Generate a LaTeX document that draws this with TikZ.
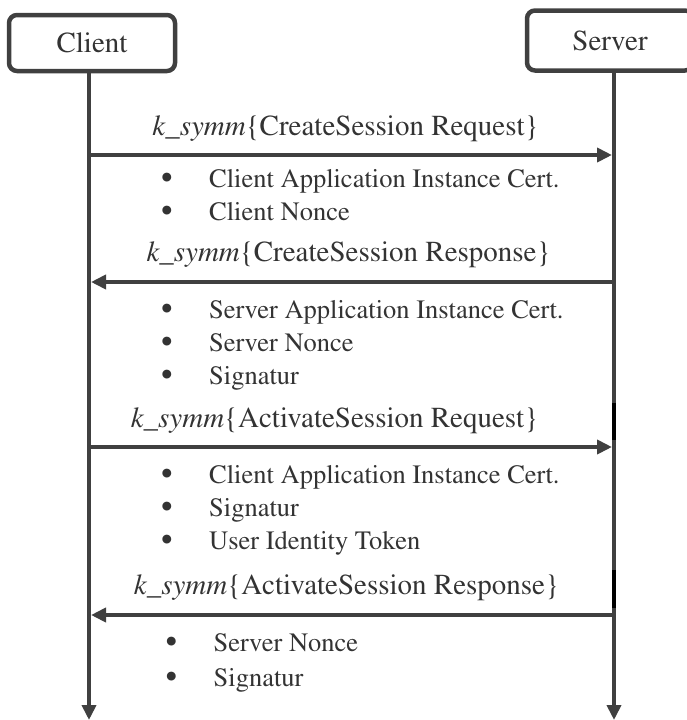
\documentclass[tikz,border=0pt]{standalone}
\usepackage[T1]{fontenc}
\usepackage{times}
\usetikzlibrary{arrows.meta}
\definecolor{ink}{HTML}{404040}
\definecolor{txt}{HTML}{333333}
\newcommand{\bul}{\makebox[47pt][l]{\hspace{-1.2pt}%
  \raisebox{-1.8pt}{\fontsize{33}{33}\selectfont\textbullet}}}
\newcommand{\ksym}[1]{{\itshape k\_symm}\{#1\}}

\begin{document}
\begin{tikzpicture}[
    x=1pt, y=-1pt,
    >={Triangle[length=15pt,width=14pt]},
    party/.style = {rectangle, rounded corners=8pt, draw=ink,
                    line width=4.5pt, minimum width=166pt,
                    text=txt, font=\fontsize{29}{34}\selectfont},
    life/.style  = {draw=ink, line width=4.5pt, ->},
    msg/.style   = {draw=ink, line width=4pt, ->, shorten >=2pt},
    lbl/.style   = {text=txt, inner sep=0pt,
                    font=\fontsize{29}{34}\selectfont},
    item/.style  = {anchor=base west, text=txt, inner sep=0pt,
                    font=\fontsize{26.5}{30}\selectfont},
    act/.style   = {draw=black, line width=4.5pt},
  ]
  \useasboundingbox (0,0) rectangle (686,720);
  % the two parties
  \node[party, minimum height=56pt] (client) at (92,43)   {Client};
  \node[party, minimum height=60pt] (server) at (610,40.5) {Server};
  \coordinate (cb) at (89,720);
  \coordinate (sb) at (614,720);
  % lifelines
  \draw[life] (client.south -| cb) -- (cb);
  \draw[life] (server.south -| sb) -- (sb);
  % black marks on the server line
  \coordinate (a1) at (614,403);
  \coordinate (a2) at (614,440);
  \coordinate (b1) at (614,570);
  \coordinate (b2) at (614,608);
  \draw[act] (a1) -- (a2);
  \draw[act] (b1) -- (b2);
  % message end points
  \foreach \n/\y in {1/155,2/282,3/447,4/615}{
    \coordinate (c\n) at (89,\y);
    \coordinate (s\n) at (614,\y);
  }
  % messages
  \draw[msg] (c1) -- node[lbl, above=11pt, xshift=-6pt]
    {\ksym{CreateSession Request}} (s1);
  \draw[msg] (s2) -- node[lbl, above=12pt, xshift=-3pt]
    {\ksym{CreateSession Response}} (c2);
  \draw[msg] (c3) -- node[lbl, above=11pt, xshift=-17pt]
    {\ksym{ActivateSession Request}} (s3);
  \draw[msg] (s4) -- node[lbl, above=12pt, xshift=-5pt]
    {\ksym{ActivateSession Response}} (c4);
  % message contents
  \node[item] (i11) at (162,187) {\bul Client Application Instance Cert.};
  \node[item] (i12) at (162,220) {\bul Client Nonce};
  \node[item] (i21) at (162,318) {\bul Server Application Instance Cert.};
  \node[item] (i22) at (162,351) {\bul Server Nonce};
  \node[item] (i23) at (162,384) {\bul Signatur};
  \node[item] (i31) at (162,483) {\bul Client Application Instance Cert.};
  \node[item] (i32) at (162,516) {\bul Signatur};
  \node[item] (i33) at (162,549) {\bul User Identity Token};
  \node[item] (i41) at (166.5,651) {\bul Server Nonce};
  \node[item] (i42) at (166.5,686) {\bul Signatur};
\end{tikzpicture}
\end{document}
